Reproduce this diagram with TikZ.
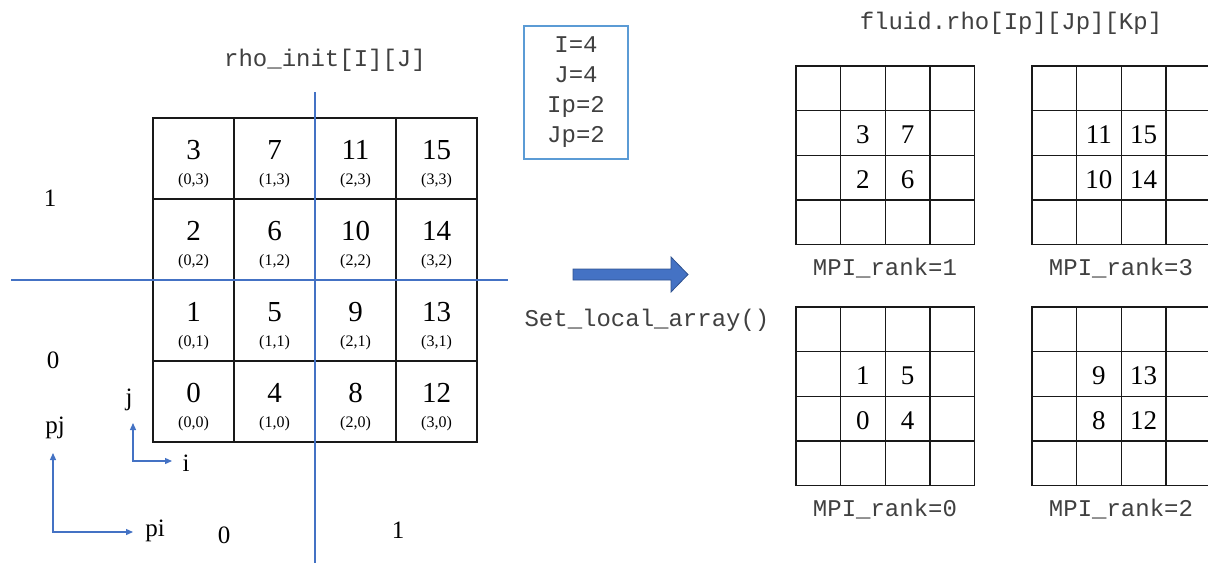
\documentclass[tikz,border=0pt]{standalone}
\usepackage{fontspec}
\setmainfont{Liberation Serif}
\newfontfamily\codefont{Liberation Mono}
\usetikzlibrary{arrows.meta}
\definecolor{lineblue}{HTML}{4472C4}
\definecolor{boxblue}{HTML}{5B9BD5}
\definecolor{arrowfill}{HTML}{4472C4}
\definecolor{arrowedge}{HTML}{2F528F}
\begin{document}
\begin{tikzpicture}[x=1pt,y=-1pt,
  maincell/.style={draw=black!90,line width=1.6pt,minimum width=81pt,minimum height=81pt,inner sep=0,outer sep=0},
  subcell/.style={draw=black!90,line width=1.4pt,minimum width=44.6pt,minimum height=44.6pt,inner sep=0,outer sep=0},
  bignum/.style={font=\fontsize{29}{31}\selectfont,inner sep=0},
  idxlab/.style={font=\fontsize{16}{18}\selectfont,inner sep=0},
  subnum/.style={font=\fontsize{27}{29}\selectfont,inner sep=0},
  code/.style={font=\codefont\fontsize{24}{30}\selectfont,inner sep=0,text=black!75},
  axlab/.style={font=\fontsize{25}{28}\selectfont,inner sep=0},
  partline/.style={draw=lineblue,line width=1.4pt},
  axarrow/.style={draw=lineblue,line width=1.3pt,{Triangle[length=7pt,width=6pt]}-{Triangle[length=7pt,width=6pt]}},
  paramsbox/.style={draw=boxblue,line width=1.3pt,minimum width=104pt,minimum height=133pt,inner sep=0,align=center,font=\codefont\fontsize{24}{30}\selectfont,text=black!75}
]
\useasboundingbox (0,0) rectangle (1208,563);

% main global array
\foreach \i in {0,...,3}{
  \foreach \j in {0,...,3}{
    \pgfmathtruncatemacro{\n}{4*\i+\j}
    \pgfmathsetmacro{\cx}{193.5+81*\i}
    \pgfmathsetmacro{\cy}{158.5+81*(3-\j)}
    \node[maincell] (m\i\j) at (\cx,\cy) {};
    \node[bignum] (mn\i\j) at (\cx,\cy-8.5) {\n};
    \node[idxlab] (mi\i\j) at (\cx,\cy+22.5) {(\i,\j)};
  }
}

% partition lines
\coordinate (vtop) at (315,92);
\coordinate (vbot) at (315,563);
\coordinate (hleft) at (11,280);
\coordinate (hright) at (508,280);
\draw[partline] (vtop) -- (vbot);
\draw[partline] (hleft) -- (hright);

% titles
\node[code] (t1) at (325,60) {rho\_init[I][J]};
\node[code] (t2) at (1011,23) {fluid.rho[Ip][Jp][Kp]};
\node[code] (fn) at (647,320) {Set\_local\_array()};

% parameter box
\node[paramsbox] (params) at (576,92.5) {I=4\\J=4\\Ip=2\\Jp=2};

% big arrow
\filldraw[fill=arrowfill,draw=arrowedge,line width=0.8pt]
  (573,269) -- (671,269) -- (671,257) -- (688,274.5) -- (671,292) -- (671,280) -- (573,280) -- cycle;

% axes
\coordinate (jtip) at (133,423);
\coordinate (ijcorner) at (133,461);
\coordinate (itip) at (172,461);
\draw[axarrow] (jtip) -- (ijcorner) -- (itip);
\coordinate (pjtip) at (53,453);
\coordinate (pcorner) at (53,532);
\coordinate (pitip) at (133,532);
\draw[axarrow] (pjtip) -- (pcorner) -- (pitip);

\node[axlab] (lj) at (129,400) {j};
\node[axlab] (li) at (186,463) {i};
\node[axlab] (lpj) at (55,428) {pj};
\node[axlab] (lpi) at (155,531) {pi};
\node[axlab] (py1) at (50,198) {1};
\node[axlab] (py0) at (53,360) {0};
\node[axlab] (px0) at (224,535) {0};
\node[axlab] (px1) at (398,530) {1};

% local arrays
\foreach \gx/\gy/\r/\a/\b/\c/\d in {796/66/1/3/7/2/6, 1032/66/3/11/15/10/14, 796/307/0/1/5/0/4, 1032/307/2/9/13/8/12}{
  \foreach \ci in {0,...,3}{
    \foreach \rj in {0,...,3}{
      \node[subcell] (g\r-\ci\rj) at (\gx+22.3+44.6*\ci,\gy+22.3+44.6*\rj) {};
    }
  }
  \node[subnum] (g\r-a) at ([yshift=-2pt]g\r-11.center) {\a};
  \node[subnum] (g\r-b) at ([yshift=-2pt]g\r-21.center) {\b};
  \node[subnum] (g\r-c) at ([yshift=-2pt]g\r-12.center) {\c};
  \node[subnum] (g\r-d) at ([yshift=-2pt]g\r-22.center) {\d};
  \node[code] (rk\r) at (\gx+89,\gy+202) {MPI\_rank=\r};
}
\end{tikzpicture}
\end{document}
